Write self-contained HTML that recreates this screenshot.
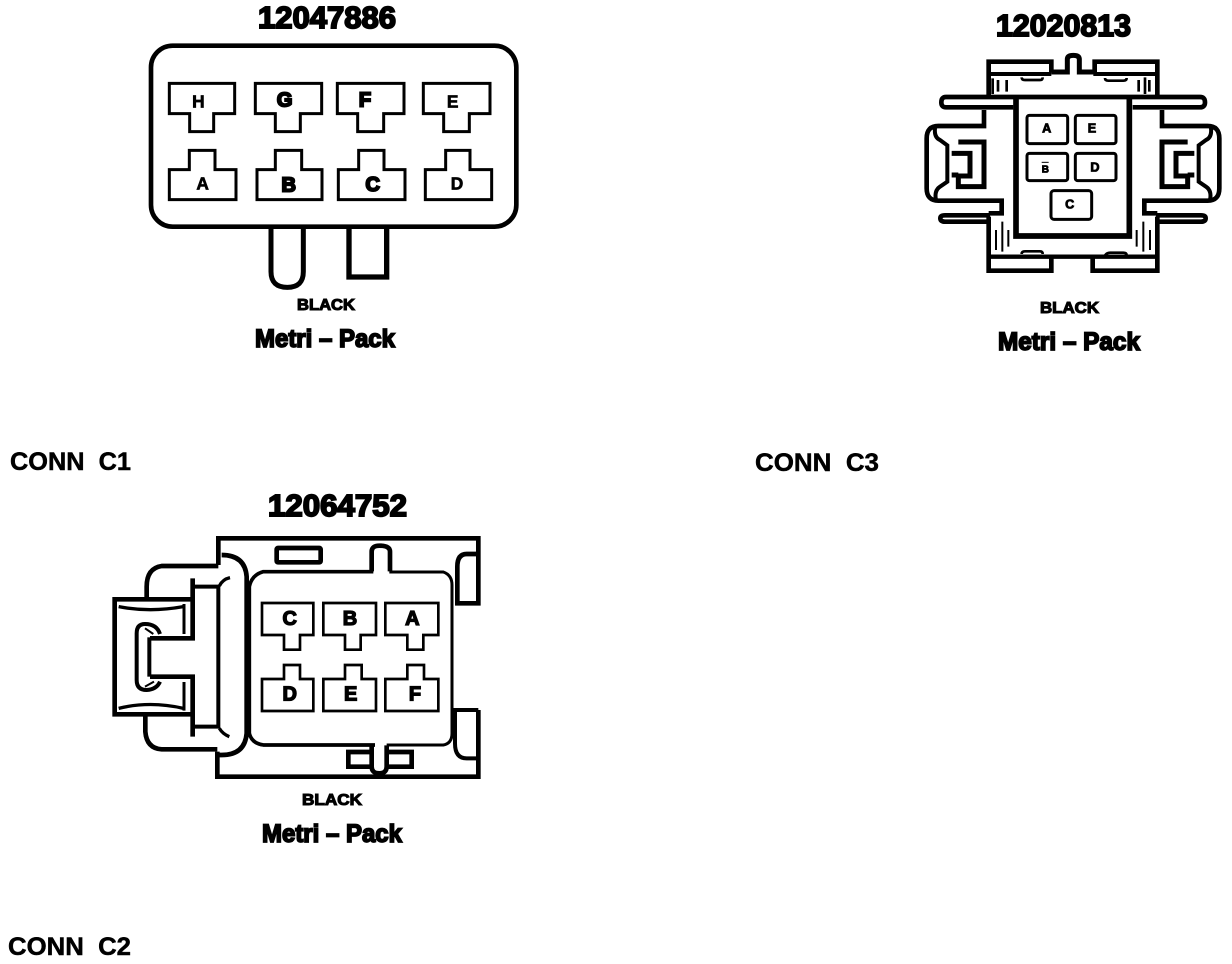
<!DOCTYPE html>
<html>
<head>
<meta charset="utf-8">
<style>
html,body{margin:0;padding:0;background:#fff;width:1232px;height:964px;overflow:hidden}
svg{display:block}
text{font-family:"Liberation Sans",sans-serif;font-weight:bold;fill:#000}
.t{stroke:#000;stroke-width:1.9px}
.l{font-size:16px;stroke:#000;stroke-width:1.1px}
.m{font-size:25px;stroke:#000;stroke-width:1.7px}
.k{font-size:25px;stroke:#000;stroke-width:.5px}
.s{fill:none;stroke:#000;stroke-linejoin:miter}
</style>
</head>
<body>
<svg width="1232" height="964" viewBox="0 0 1232 964" xmlns="http://www.w3.org/2000/svg">
<rect width="1232" height="964" fill="#fff"/>

<!-- C1 -->
<text class="t" x="258" y="28" font-size="31" textLength="138" lengthAdjust="spacingAndGlyphs">12047886</text>
<text class="l" x="297" y="310" textLength="58" lengthAdjust="spacingAndGlyphs">BLACK</text>
<text class="m" x="255" y="347" textLength="140" lengthAdjust="spacingAndGlyphs">Metri – Pack</text>
<text class="k" x="10" y="470" textLength="121" lengthAdjust="spacingAndGlyphs">CONN&#160;&#160;C1</text>

<g transform="translate(100,0) scale(.33333)">
  <rect class="s" x="153" y="137" width="1096" height="543" rx="65" stroke-width="14"/>
  <path class="s" stroke-width="15" d="M513 682V815Q513 862 562 862Q610 862 610 815V682"/>
  <path class="s" stroke-width="16" d="M747 682V831H860V682"/>
  <g class="s" stroke-width="9">
    <path d="M208 250H404V341H341V395H269V341H208Z"/>
    <path d="M466 250H665V341H601V395H526V341H466Z"/>
    <path d="M712 250H912V341H851V395H773V341H712Z"/>
    <path d="M970 250H1170V341H1108V395H1031V341H970Z"/>
    <path d="M208 599H408V509H345V451H268V509H208Z"/>
    <path d="M471 599H666V509H605V451H526V509H471Z"/>
    <path d="M715 599H915V509H852V451H776V509H715Z"/>
    <path d="M976 599H1175V509H1110V451H1037V509H976Z"/>
  </g>
  <g font-size="52" text-anchor="middle" stroke="#000" stroke-width="2">
    <text x="295" y="323">H</text>
    <text x="554" y="319" font-size="60" stroke-width="6">G</text>
    <text x="795" y="319" font-size="60" stroke-width="6">F</text>
    <text x="1058" y="323">E</text>
    <text x="308" y="568">A</text>
    <text x="566" y="574" font-size="60" stroke-width="6">B</text>
    <text x="818" y="573" font-size="60" stroke-width="6">C</text>
    <text x="1071" y="568">D</text>
  </g>
</g>

<!-- C3 -->
<text class="t" x="996" y="36" font-size="31" textLength="135" lengthAdjust="spacingAndGlyphs">12020813</text>
<text class="l" x="1040" y="313" textLength="59" lengthAdjust="spacingAndGlyphs">BLACK</text>
<text class="m" x="998" y="350" textLength="142" lengthAdjust="spacingAndGlyphs">Metri – Pack</text>
<text class="k" x="755" y="471" textLength="124" lengthAdjust="spacingAndGlyphs">CONN&#160;&#160;C3</text>

<g transform="translate(910,0) scale(.33333)">
  <g class="s" stroke-width="14">
    <path d="M236 290V185H424V218"/>
    <path d="M554 218V185H742V290"/>
    <path d="M232 222H424M550 222H746" stroke-width="12"/>
    <path d="M424 216H472V178Q472 166 490 166Q508 166 508 178V216H554" stroke-width="15"/>
    <path d="M108 291H870" />
    <path d="M108 291Q94 291 94 307Q94 322 108 322H310"/>
    <path d="M870 291Q885 291 885 307Q885 322 870 322H668"/>
    <path d="M318 296V708H658V296" stroke-width="17"/>
    <path d="M236 650V812H424V772"/>
    <path d="M548 772V812H742V650"/>
    <path d="M232 770H746" stroke-width="13"/>
    <path d="M240 646H105Q91 646 91 655Q91 665 105 665H240"/>
    <path d="M738 646H873Q887 646 887 655Q887 665 873 665H738"/>
    <g>
      <path d="M222 330V378H85Q50 378 50 415V565Q50 602 85 602H275V640H236"/>
      <path d="M75 385Q72 412 90 420L112 436V545L90 560Q72 572 78 600" stroke-width="12"/>
      <path d="M145 426H222V560H145V528H180V460H125" stroke-width="15"/>
      <path d="M125 525H145" stroke-width="15"/>
    </g>
    <g transform="translate(978,0) scale(-1,1)">
      <path d="M222 330V378H85Q50 378 50 415V565Q50 602 85 602H275V640H236"/>
      <path d="M75 385Q72 412 90 420L112 436V545L90 560Q72 572 78 600" stroke-width="12"/>
      <path d="M145 426H222V560H145V528H180V460H125" stroke-width="15"/>
      <path d="M125 525H145" stroke-width="15"/>
    </g>
    <path d="M248 235V282M264 240V275M290 240V275M686 240V275M718 240V275M705 232V282" stroke-width="8"/>
    <path d="M258 690V750M277 665V755M295 690V740M680 690V740M700 665V755M720 690V750" stroke-width="6"/>
    <path d="M335 232Q335 240 345 240H390Q398 240 398 232M585 234Q585 242 595 242H640Q650 242 650 234" stroke-width="8"/>
    <path d="M335 762Q335 754 345 754H390Q398 754 398 762M585 766Q590 758 600 758H640Q650 758 650 766" stroke-width="8"/>
  </g>
  <g class="s" stroke-width="9">
    <rect x="351" y="346" width="122" height="85" rx="7"/>
    <rect x="496" y="346" width="122" height="85" rx="7"/>
    <rect x="351" y="460" width="122" height="82" rx="7"/>
    <rect x="496" y="460" width="122" height="82" rx="7"/>
    <rect x="423" y="572" width="122" height="86" rx="9"/>
  </g>
  <g font-size="38" text-anchor="middle" stroke="#000" stroke-width="2.5">
    <text x="410" y="398">A</text>
    <text x="546" y="398">E</text>
    <text x="406" y="517" font-size="30">B</text>
    <text x="555" y="514">D</text>
    <text x="479" y="626">C</text>
  </g>
  <path d="M395 487H416" stroke="#000" stroke-width="3"/>
</g>

<!-- C2 -->
<text class="t" x="268" y="516" font-size="31" textLength="139" lengthAdjust="spacingAndGlyphs">12064752</text>
<text class="l" x="302" y="805" textLength="60" lengthAdjust="spacingAndGlyphs">BLACK</text>
<text class="m" x="262" y="842" textLength="140" lengthAdjust="spacingAndGlyphs">Metri – Pack</text>
<text class="k" x="8" y="955" textLength="123" lengthAdjust="spacingAndGlyphs">CONN&#160;&#160;C2</text>

<g transform="translate(100,480) scale(.33333)">
  <g class="s" stroke-width="14">
    <path d="M355 255V175H1135V370H1072V260Q1072 222 1100 222H1135"/>
    <path d="M1135 690V890H352V815"/>
    <path d="M1135 690H1065V790Q1065 835 1100 835H1135" stroke-width="12"/>
    <path d="M815 274V215Q815 197 838 197Q870 197 870 215V274"/>
    <path d="M820 275H490Q455 285 448 320V760Q455 790 490 795H825" stroke-width="11"/>
    <path d="M868 276H1030Q1056 285 1056 315V760Q1056 790 1030 795H860" stroke-width="9"/>
    <path d="M860 796V860Q860 880 838 880Q815 880 815 860V796"/>
    <rect x="530" y="204" width="132" height="43" rx="4"/>
    <path d="M815 816H745V860H815M862 816H935V860H862"/>
    <path d="M355 258H185Q140 265 140 320V352"/>
    <path d="M136 705V755Q140 805 185 808H352"/>
    <path d="M365 225Q435 225 440 290V760Q435 825 365 825H350"/>
    <path d="M278 295V475H150"/>
    <path d="M278 770V590H150"/>
    <path d="M285 320H355V740H285" stroke-width="12"/>
    <path d="M358 318Q368 298 390 293M358 745Q368 762 388 770" stroke-width="10"/>
    <path d="M278 358H44V703H278"/>
    <path d="M252 372V462M252 606V692" stroke-width="9"/>
    <path d="M56 380Q150 398 250 380M56 685Q150 662 250 685" stroke-width="10"/>
    <path d="M180 462Q170 432 135 432Q110 432 110 460V600Q110 630 140 630Q170 628 180 605" stroke-width="12"/>
    <path d="M148 472V590" stroke-width="12"/>
    <path d="M135 445L160 462M135 620L162 605" stroke-width="6"/>
  </g>
  <g class="s" stroke-width="8">
    <path d="M486 369H640V465H600V509H552V465H486Z"/>
    <path d="M670 369H828V465H782V509H735V465H670Z"/>
    <path d="M856 369H1015V465H970V509H922V465H856Z"/>
    <path d="M486 693H640V597H600V555H552V597H486Z"/>
    <path d="M670 693H828V597H785V555H735V597H670Z"/>
    <path d="M856 693H1015V597H972V555H922V597H856Z"/>
  </g>
  <g font-size="60" text-anchor="middle" stroke="#000" stroke-width="4">
    <text x="569" y="435">C</text>
    <text x="750" y="435">B</text>
    <text x="937" y="435">A</text>
    <text x="569" y="662">D</text>
    <text x="752" y="662">E</text>
    <text x="945" y="662">F</text>
  </g>
</g>
</svg>
</body>
</html>
